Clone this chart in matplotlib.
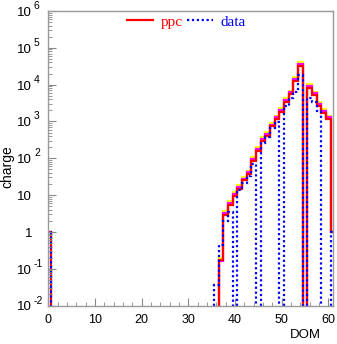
import numpy as np
import matplotlib
matplotlib.use("Agg")
import matplotlib.pyplot as plt
import matplotlib.transforms as mtransforms
from matplotlib.ticker import FixedLocator, LogLocator, NullFormatter

plt.rcParams['font.family'] = ['Liberation Sans', 'DejaVu Sans']

# DOM number (bin centres) 0..61
dom = np.arange(0, 62)

# charge per DOM, 0 = empty bin
ppc = [1] + [0] * 36 + [
    0.17, 2.9, 5.4, 9.6, 15, 25, 37, 86, 160, 300, 410, 730, 1150,
    1800, 3400, 5500, 12600, 32000, 0, 8300, 5200, 2700, 1700, 1150, 1]
ppc_mid = [0] + [0] * 36 + [
    0.16, 3.3, 6.1, 10.8, 17, 28, 42, 97, 180, 340, 465, 825, 1300,
    2030, 3850, 6200, 14200, 36000, 0, 9400, 5900, 3050, 1920, 1300, 1]
ppc_hi = [0] + [0] * 36 + [
    0.2, 3.7, 6.8, 12, 19, 31, 46, 108, 200, 375, 515, 915, 1440,
    2250, 4250, 6900, 15800, 40000, 0, 10400, 6500, 3400, 2130, 1440, 1]
data = [1] + [0] * 35 + [
    0.035, 0.43, 2.0, 3.5, 0, 14, 21, 33, 70, 0, 260, 370, 650, 940,
    0, 2600, 4200, 6300, 18000, 0, 4200, 3400, 1950, 0, 0, 1]

# y tick labels: (value, base, exponent)
ylabels = [(1e-2, '10', '-2'), (1e-1, '10', '-1'), (1, '1', ''), (10, '10', ''),
           (1e2, '10', '2'), (1e3, '10', '3'), (1e4, '10', '4'),
           (1e5, '10', '5'), (1e6, '10', '6')]

edges = np.append(dom - 0.5, dom[-1] + 0.5)


def floor(v):
    v = np.asarray(v, dtype=float)
    return np.where(v > 0, v, 1e-5)


fig = plt.figure(figsize=(3.37, 3.44), dpi=100)
ax = fig.add_axes([48.3 / 337, 1 - 305.5 / 344, (333 - 48.3) / 337, (305.5 - 11) / 344])

ax.stairs(floor(ppc_hi), edges, baseline=None, color='#ffff00', lw=1.6)
ax.stairs(floor(ppc_mid), edges, baseline=None, color='#ff00ff', lw=1.6)
ax.stairs(floor(ppc), edges, baseline=None, color='#ff0000', lw=1.6, label='ppc')
ax.stairs(floor(data), edges, baseline=None, color='#0000ff', lw=1.6,
          linestyle=(0, (1, 1.2)), label='data')

ax.set_yscale('log')
ax.set_xlim(0, 61)
ax.set_ylim(1e-2, 1e6)

ax.yaxis.set_major_locator(FixedLocator([v for v, _, _ in ylabels]))
ax.yaxis.set_minor_locator(LogLocator(base=10, subs=np.arange(2, 10), numticks=20))
ax.yaxis.set_minor_formatter(NullFormatter())
ax.set_xticks(np.arange(0, 61, 10))
ax.set_xticks(np.arange(0, 61, 2), minor=True)

ax.tick_params(which='both', direction='in', color='#888888', labelsize=9,
               top=False, right=False)
ax.tick_params(which='major', length=6)
ax.tick_params(which='minor', length=3)
ax.tick_params(axis='y', labelleft=False)
ax.tick_params(axis='x', pad=6)
for s in ax.spines.values():
    s.set_color('#999999')
    s.set_linewidth(1)

# ROOT-style y labels: base right-aligned, exponent raised to its right
trans = mtransforms.blended_transform_factory(ax.transAxes, ax.transData)
for v, base, ex in ylabels:
    tb = mtransforms.offset_copy(trans, fig=fig, x=0, y=-2, units='dots')
    ax.text((32 - 48.3) / 284.7, v, base, transform=tb, ha='right', va='center',
            fontsize=9.5, clip_on=False)
    if ex:
        te = mtransforms.offset_copy(trans, fig=fig, x=0, y=5, units='dots')
        ax.text((34 - 48.3) / 284.7, v, ex, transform=te, ha='left', va='center',
                fontsize=7.5, clip_on=False)

ax.set_xlabel('DOM', fontsize=9.5, ha='right')
ax.xaxis.set_label_coords((321 - 48.3) / 284.7, (305.5 - 328.5) / 294.5)
ax.set_ylabel('charge', fontsize=10)
ax.yaxis.set_label_coords(-0.118, (305.5 - 167) / 294.5)

leg = ax.legend(loc='center', bbox_to_anchor=(0.485, 0.963), ncol=2, frameon=False,
                prop={'family': 'Liberation Serif', 'size': 11},
                handlelength=1.7, handletextpad=0.5, columnspacing=0.3,
                borderpad=0, borderaxespad=0)
for t, c in zip(leg.get_texts(), ['#ff0000', '#0000ff']):
    t.set_color(c)

fig.savefig('out.png', dpi=100)
